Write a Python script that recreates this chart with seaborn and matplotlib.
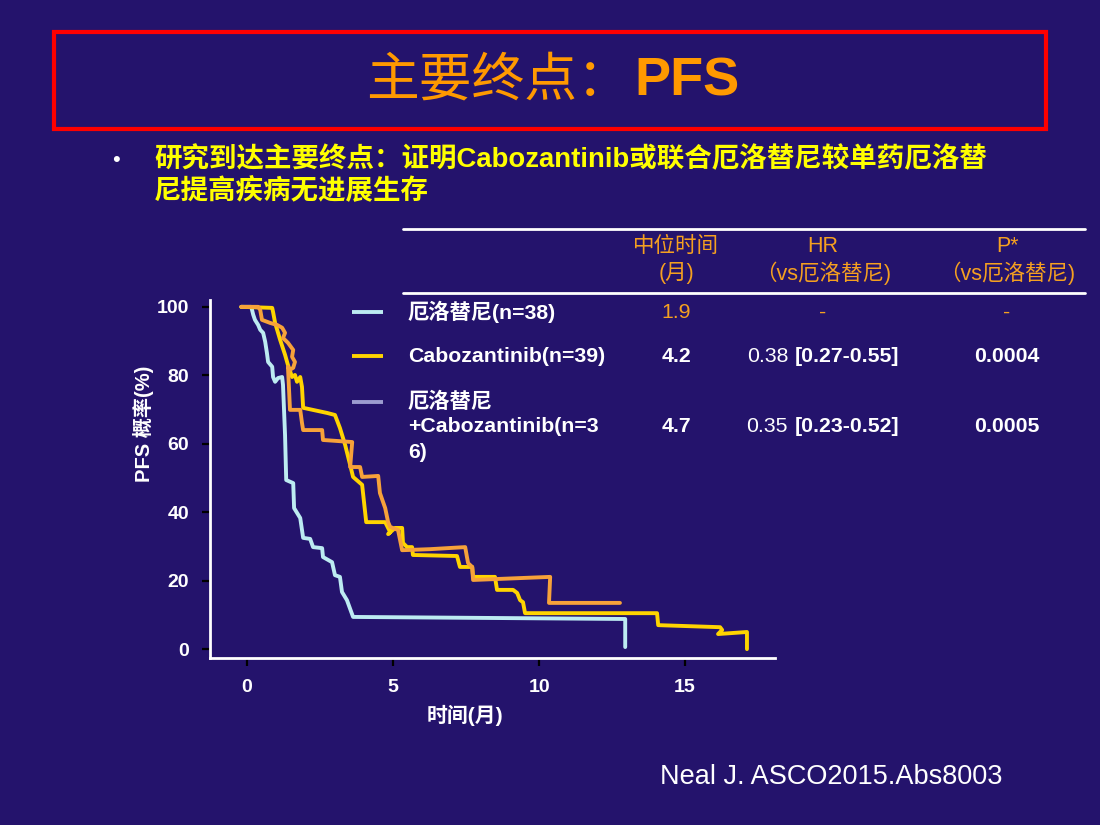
import numpy as np
import pandas as pd
import matplotlib
matplotlib.use("Agg")
import matplotlib.pyplot as plt
from matplotlib.patches import Rectangle
import seaborn as sns

# KM curve traces (time in months, PFS %)
erlo_t = [-0.2, 0.14, 0.17, 0.21, 0.27, 0.38, 0.45, 0.55, 0.62, 0.68, 0.72, 0.86, 0.89, 0.96,
          1.06, 1.20, 1.23, 1.30, 1.34, 1.58, 1.61, 1.82, 1.92, 2.16, 2.26, 2.57, 2.60, 2.91,
          3.01, 3.18, 3.25, 3.42, 3.63, 12.95, 12.95]
erlo_p = [100, 100, 99.1, 97.7, 96.2, 94.7, 93.3, 92.4, 89.8, 86.5, 83.9, 82.5, 79.5, 78.1,
          79.2, 79.5, 77.2, 62.6, 49.4, 48.5, 41.2, 38.3, 32.5, 32.2, 29.8, 29.5, 26.9, 25.4,
          21.6, 21.1, 16.7, 14.3, 9.4, 8.8, 0.6]

cabo_t = [-0.2, 0.86, 0.89, 0.96, 1.13, 1.30, 1.40, 1.54, 1.64, 1.71, 1.82, 1.88, 1.92, 2.74,
          3.01, 3.18, 3.36, 3.53, 3.63, 3.94, 4.08, 4.73, 4.90, 4.83, 5.07, 5.31, 5.34, 5.48,
          5.65, 5.68, 7.19, 7.29, 7.71, 7.74, 8.49, 8.56, 9.11, 9.25, 9.35, 9.45, 9.52, 14.04,
          14.08, 16.20, 16.27, 16.13, 17.12, 17.12]
cabo_p = [100, 99.7, 98.5, 95.3, 90.4, 86.0, 83.0, 79.5, 80.1, 78.1, 79.5, 76.6, 70.5, 69.0,
          68.4, 64.6, 59.6, 53.8, 50.3, 48.0, 37.1, 37.1, 34.2, 33.6, 35.4, 35.4, 31.0, 29.8,
          29.8, 27.5, 27.2, 24.0, 24.0, 21.1, 21.1, 17.3, 17.3, 16.4, 14.3, 13.7, 10.5, 10.5,
          7.0, 6.4, 5.6, 4.4, 5.0, 0.0]

combo_t = [-0.2, 0.38, 0.45, 0.51, 0.79, 1.03, 1.20, 1.30, 1.23, 1.40, 1.58, 1.54, 1.64, 1.58,
           1.47, 1.40, 1.47, 1.82, 1.88, 1.92, 2.57, 2.60, 3.60, 3.53, 3.87, 3.94, 4.49, 4.55,
           4.73, 4.83, 4.90, 5.17, 5.31, 6.27, 7.47, 7.53, 7.57, 7.71, 7.74, 10.38, 10.34, 12.77]
combo_p = [100, 100, 99.1, 96.2, 95.3, 94.7, 93.9, 92.4, 90.9, 89.5, 87.4, 85.4, 83.9, 82.2,
           81.6, 82.5, 69.9, 69.9, 66.1, 64.0, 64.0, 61.1, 60.5, 53.2, 53.2, 50.3, 50.6, 45.6,
           41.2, 37.1, 35.7, 34.8, 28.9, 29.2, 29.8, 26.9, 25.1, 24.0, 20.2, 21.1, 13.5, 13.5]

arm_names = ["厄洛替尼", "Cabozantinib", "厄洛替尼+Cabozantinib"]
arm_colors = ["#BDEBF2", "#FFD400", "#F7A23A"]

# table / legend content
legend_labels = ["厄洛替尼(n=38)", "Cabozantinib(n=39)", "厄洛替尼\n+Cabozantinib(n=3\n6)"]
legend_colors = ["#BDEBF2", "#FFD400", "#9C9CD0"]
header_1 = ["中位时间", "HR", "P*"]
header_2 = ["(月)", "（vs厄洛替尼)", "（vs厄洛替尼)"]
median_pfs = ["1.9", "4.2", "4.7"]
hr_point = ["", "0.38", "0.35"]
hr_ci = ["-", "[0.27-0.55]", "[0.23-0.52]"]
p_values = ["-", "0.0004", "0.0005"]

bg = "#24136C"
orange = "#F5A020"

df = pd.concat([
    pd.DataFrame({"t": erlo_t, "p": erlo_p, "arm": arm_names[0]}),
    pd.DataFrame({"t": cabo_t, "p": cabo_p, "arm": arm_names[1]}),
    pd.DataFrame({"t": combo_t, "p": combo_p, "arm": arm_names[2]}),
], ignore_index=True)

sns.set_style("ticks")
plt.rcParams["font.family"] = ["Liberation Sans", "Noto Sans CJK SC", "DejaVu Sans"]

fig = plt.figure(figsize=(11, 8.25), dpi=100)
fig.patch.set_facecolor(bg)

ax = fig.add_axes([210 / 1100, 1 - 658 / 825, 565 / 1100, 358 / 825])
ax.set_facecolor(bg)
sns.lineplot(data=df, x="t", y="p", hue="arm", palette=dict(zip(arm_names, arm_colors)),
             sort=False, estimator=None, linewidth=2.8, legend=False, ax=ax)

ax.set_xlim(-1.27, 18.08)
ax.set_ylim(-2.6, 102)
ax.set_xticks([0, 5, 10, 15])
ax.set_yticks([0, 20, 40, 60, 80, 100])
sns.despine(ax=ax)
for s in ["left", "bottom"]:
    ax.spines[s].set_color("white")
    ax.spines[s].set_linewidth(2)
ax.tick_params(axis="both", direction="out", length=6, width=1.6, color="black",
               labelcolor="white", labelsize=14)
ax.tick_params(axis="y", pad=9)
ax.tick_params(axis="x", pad=9)
for lab in ax.get_xticklabels() + ax.get_yticklabels():
    lab.set_fontweight("bold")

ax.set_xlabel("时间(月)", color="white", fontsize=15, fontweight="bold")
ax.set_ylabel("PFS 概率(%)", color="white", fontsize=14.5, fontweight="bold")
ax.xaxis.set_label_coords(0.451, -0.13)
ax.yaxis.set_label_coords(-0.1, 0.654)

# slide overlay in pixel coordinates
ov = fig.add_axes([0, 0, 1, 1])
ov.set_xlim(0, 1100)
ov.set_ylim(825, 0)
ov.axis("off")
ov.patch.set_alpha(0)

ov.add_patch(Rectangle((54, 32), 992, 97, fill=False, edgecolor="#FF0000", linewidth=3))
ov.text(630, 82, "主要终点：", fontsize=38, color="#FF9900", ha="right", va="center")
ov.text(634, 82, "PFS", fontsize=39, color="#FF9900", ha="left", va="center",
        fontweight="bold")

ov.text(116, 160, "•", fontsize=16, color="white", ha="center", va="center")
ov.text(154, 160, "研究到达主要终点：证明Cabozantinib或联合厄洛替尼较单药厄洛替",
        fontsize=19.8, color="#FFFF00", fontweight="bold", ha="left", va="center")
ov.text(154, 191, "尼提高疾病无进展生存",
        fontsize=19.8, color="#FFFF00", fontweight="bold", ha="left", va="center")

# table rules
ov.plot([403, 1085], [229, 229], color="white", linewidth=2)
ov.plot([403, 1085], [293, 293], color="white", linewidth=2)

col_x = [676, 823, 1007]
for cx, h1, h2 in zip(col_x, header_1, header_2):
    ov.text(cx, 247, h1, fontsize=15.5, color=orange, ha="center", va="center")
    ov.text(cx, 273, h2, fontsize=15.5, color=orange, ha="center", va="center")

row_y = [312, 356, 427]
for i, (lab, lc) in enumerate(zip(legend_labels, legend_colors)):
    lines = lab.split("\n")
    ly = row_y[i] - 25 * (len(lines) // 2)
    ov.plot([352, 383], [ly, ly], color=lc, linewidth=2.8, solid_capstyle="butt")
    for k, ln in enumerate(lines):
        ov.text(408, ly + 25 * k, ln, fontsize=15.3, color="white", fontweight="bold",
                ha="left", va="center")

for i, y in enumerate(row_y):
    first = i == 0
    col = orange if first else "white"
    wt = "normal" if first else "bold"
    ov.text(col_x[0], y, median_pfs[i], fontsize=15.3, color=col, fontweight=wt,
            ha="center", va="center")
    if hr_point[i]:
        ov.text(788, y, hr_point[i], fontsize=15.3, color="white", ha="right", va="center")
        ov.text(795, y, hr_ci[i], fontsize=15.3, color="white", fontweight="bold",
                ha="left", va="center")
    else:
        ov.text(col_x[1], y, hr_ci[i], fontsize=15.3, color=col, ha="center", va="center")
    ov.text(col_x[2], y, p_values[i], fontsize=15.3, color=col, fontweight=wt,
            ha="center", va="center")

ov.text(660, 777, "Neal J. ASCO2015.Abs8003", fontsize=19.5, color="white",
        ha="left", va="center")

fig.savefig("out.png", dpi=100, facecolor=bg)
